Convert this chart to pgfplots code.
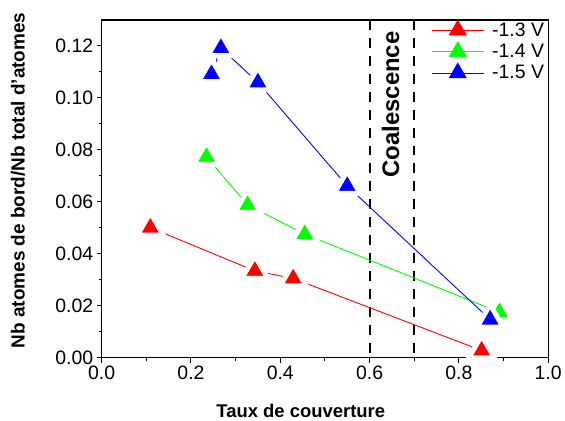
\documentclass[border=0pt]{standalone}
\usepackage{pgfplots}
\pgfplotsset{compat=1.18}
\usepackage{fontspec}
\setmainfont{Liberation Sans}
\definecolor{cred}{RGB}{255,0,0}
\definecolor{cgreen}{RGB}{0,255,0}
\definecolor{cblue}{RGB}{0,0,255}
\begin{document}
\begin{tikzpicture}
\begin{axis}[
  scale only axis,
  width=448pt, height=339pt,
  xmin=0, xmax=1, ymin=0, ymax=0.1298,
  xtick={0,0.2,0.4,0.6,0.8,1.0},
  ytick={0,0.02,0.04,0.06,0.08,0.10,0.12},
  minor x tick num=1, minor y tick num=1,
  tick pos=left, tick align=outside,
  major tick length=5pt, minor tick length=3pt,
  every tick/.style={black, line width=1pt},
  axis line style={line width=1.2pt},
  axis on top=true,
  /pgf/number format/assume math mode=true,
  x tick label style={/pgf/number format/.cd, fixed, fixed zerofill, precision=1},
  y tick label style={/pgf/number format/.cd, fixed, fixed zerofill, precision=2},
  tick label style={font=\fontsize{19.5}{22}\selectfont},
  xlabel={Taux de couverture},
  ylabel={Nb atomes de bord/Nb total d'atomes},
  every axis x label/.style={at={(axis description cs:0.446,-0.156)}, anchor=center, font=\bfseries\fontsize{18.5}{22}\selectfont},
  every axis y label/.style={at={(axis description cs:-0.1875,0.525)}, anchor=center, rotate=90, font=\bfseries\fontsize{19}{22}\selectfont},
  legend style={at={(axis description cs:1,1)}, anchor=north east, draw=none, fill=none,
    font=\fontsize{19.5}{22}\selectfont, row sep=2pt, inner sep=2pt, xshift=0pt, yshift=2pt,
    /tikz/every odd column/.append style={column sep=6pt}},
  legend cell align=left,
  legend image code/.code={\draw[#1,mark repeat=2,mark phase=2] plot coordinates {(0pt,0pt) (26pt,0pt) (52pt,0pt)};},
  every axis plot/.append style={line width=0.9pt},
  clip=false,
]
\coordinate (ll) at (axis description cs:0,0);
\addplot[black, line width=2pt, dash pattern=on 10pt off 8pt, forget plot] coordinates {(0.6,0.1298) (0.6,0)};
\addplot[black, line width=2pt, dash pattern=on 10pt off 8pt, forget plot] coordinates {(0.7,0.1298) (0.7,0)};
\node[rotate=90, font=\bfseries\fontsize{24}{26}\selectfont] at (axis cs:0.647,0.0973) {Coalescence};

\addplot[cred, forget plot, mark=triangle*, mark size=15pt, mark options={fill=cred, draw=white, line width=5pt, solid}] coordinates {
 (0.109,0.0500) (0.343,0.0334) (0.429,0.0305) (0.851,0.0028)};
\addplot[cgreen, forget plot, mark=triangle*, mark size=15pt, mark options={fill=cgreen, draw=white, line width=5pt, solid}] coordinates {
 (0.235,0.0772) (0.327,0.0587) (0.455,0.0475) (0.891,0.0175)};
\addplot[cblue, forget plot, mark=triangle*, mark size=15pt, mark options={fill=cblue, draw=white, line width=5pt, solid}] coordinates {
 (0.246,0.1090) (0.267,0.1190) (0.350,0.1058) (0.550,0.0660) (0.870,0.0147)};

\addlegendimage{cred, line width=0.9pt, mark=triangle*, mark size=10pt, mark options={fill=cred, draw=cred, line width=0.5pt}}
\addlegendentry{-1.3 V}
\addlegendimage{cgreen, line width=0.9pt, mark=triangle*, mark size=10pt, mark options={fill=cgreen, draw=cgreen, line width=0.5pt}}
\addlegendentry{-1.4 V}
\addlegendimage{cblue, line width=0.9pt, mark=triangle*, mark size=10pt, mark options={fill=cblue, draw=cblue, line width=0.5pt}}
\addlegendentry{-1.5 V}
\end{axis}
\path (ll) ++(-102pt,-61pt) rectangle ++(565pt,420pt);
\end{tikzpicture}
\end{document}
